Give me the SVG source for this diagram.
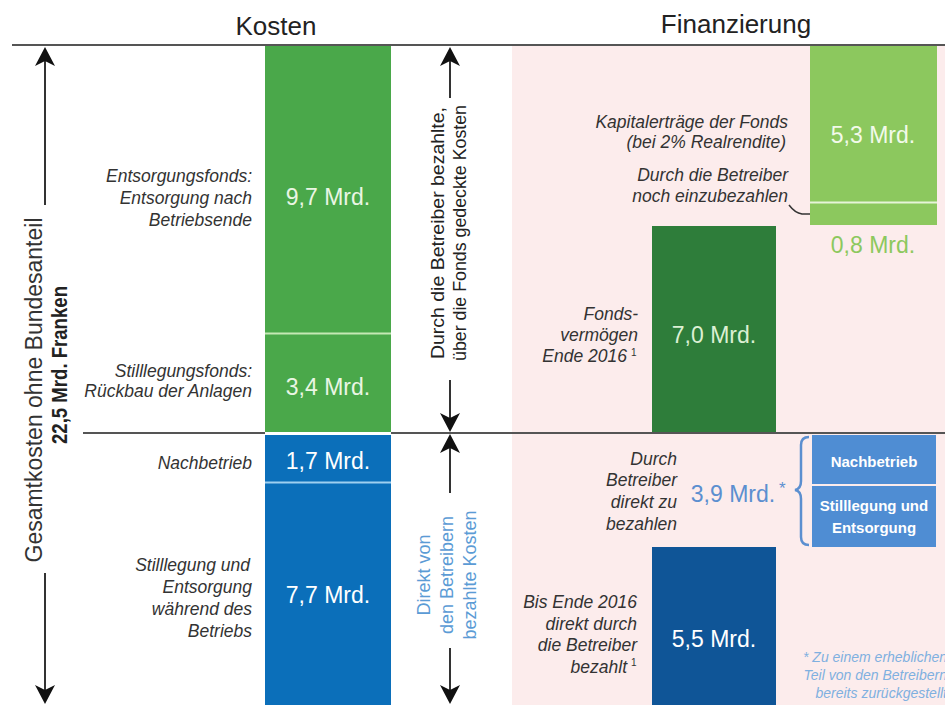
<svg xmlns="http://www.w3.org/2000/svg" xmlns:xlink="http://www.w3.org/1999/xlink" width="945" height="705" viewBox="0 0 945 705">
<style>
text{font-family:"Liberation Sans",Arial,sans-serif}
.hd{font-size:26px;fill:#222;text-anchor:middle}
.lb{font-size:17.5px;font-style:italic;fill:#333;text-anchor:end}
.val{font-size:23px;text-anchor:middle}
.rule{stroke:#555;stroke-width:2;fill:none}
.shaft{stroke:#333;stroke-width:2;fill:none}
.ah{fill:#111}
.box{font-size:15px;font-weight:bold;fill:#fff;text-anchor:middle}
.fn{font-size:14px;font-style:italic;fill:#7fb0e0;text-anchor:end}
.sup{font-size:10px;fill:#333}
</style>
<defs>
<path id="ah" class="ah" d="M0 0 L-10 19 L0 14 L10 19 Z"/>
</defs>
<rect width="945" height="705" fill="#fff"/>
<rect x="512" y="46" width="433" height="659" fill="#fcecec"/>
<text class="hd" x="276" y="35">Kosten</text>
<text class="hd" x="736" y="33">Finanzierung</text>
<path class="rule" d="M12 45 H945 M83 433 H265 M391 433 H945"/>

<g id="entsorgungsfonds">
<rect x="265" y="46" width="126" height="287" fill="#4aa84a"/>
<text class="val" x="328" y="205" fill="#eaf6e4">9,7 Mrd.</text>
<text class="lb" x="252" y="182">Entsorgungsfonds:</text>
<text class="lb" x="252" y="204">Entsorgung nach</text>
<text class="lb" x="252" y="226">Betriebsende</text>
</g>
<g id="stilllegungsfonds">
<rect x="265" y="334" width="126" height="98" fill="#4aa84a"/>
<line x1="265" y1="333.5" x2="391" y2="333.5" stroke="#c4e8b4" stroke-width="2"/>
<text class="val" x="328" y="395" fill="#eaf6e4">3,4 Mrd.</text>
<text class="lb" x="252" y="377">Stilllegungsfonds:</text>
<text class="lb" x="252" y="397">Rückbau der Anlagen</text>
</g>
<g id="nachbetrieb">
<rect x="265" y="435" width="126" height="47" fill="#0b6fba"/>
<text class="val" x="328" y="469" fill="#fff">1,7 Mrd.</text>
<text class="lb" x="252" y="469">Nachbetrieb</text>
</g>
<g id="stilllegung-betrieb">
<rect x="265" y="483" width="126" height="222" fill="#0b6fba"/>
<line x1="265" y1="482.5" x2="391" y2="482.5" stroke="#9fd0f0" stroke-width="2"/>
<text class="val" x="328" y="603" fill="#fff">7,7 Mrd.</text>
<text class="lb" x="250" y="571">Stilllegung und</text>
<text class="lb" x="252" y="593">Entsorgung</text>
<text class="lb" x="252" y="615">während des</text>
<text class="lb" x="252" y="637">Betriebs</text>
</g>

<g id="gesamt-label">
<text transform="translate(42,390) rotate(-90)" font-size="23" fill="#333" text-anchor="middle" textLength="345" lengthAdjust="spacingAndGlyphs">Gesamtkosten ohne Bundesanteil</text>
<text transform="translate(67,365) rotate(-90)" font-size="22" font-weight="bold" fill="#222" text-anchor="middle" textLength="158" lengthAdjust="spacingAndGlyphs">22,5 Mrd. Franken</text>
</g>
<g id="fonds-label">
<text transform="translate(444,233) rotate(-90)" font-size="19" fill="#222" text-anchor="middle" textLength="252" lengthAdjust="spacingAndGlyphs">Durch die Betreiber bezahlte,</text>
<text transform="translate(466,233) rotate(-90)" font-size="19" fill="#222" text-anchor="middle" textLength="256" lengthAdjust="spacingAndGlyphs">über die Fonds gedeckte Kosten</text>
</g>
<g id="direkt-label">
<text transform="translate(430,575) rotate(-90)" font-size="18" fill="#5b9bd5" text-anchor="middle">Direkt von</text>
<text transform="translate(453,575) rotate(-90)" font-size="18" fill="#5b9bd5" text-anchor="middle">den Betreibern</text>
<text transform="translate(476,575) rotate(-90)" font-size="18" fill="#5b9bd5" text-anchor="middle">bezahlte Kosten</text>
</g>

<g id="kapitalertraege">
<rect x="810" y="46" width="127" height="156" fill="#8cc85e"/>
<text class="val" x="873" y="143" fill="#f2faea">5,3 Mrd.</text>
<text class="lb" x="788" y="128">Kapitalerträge der Fonds</text>
<text class="lb" x="786" y="148">(bei 2% Realrendite)</text>
</g>
<g id="noch-einzuzahlen">
<rect x="810" y="203" width="127" height="22" fill="#8cc85e"/>
<line x1="810" y1="202.5" x2="937" y2="202.5" stroke="#e6f4d8" stroke-width="2"/>
<text class="val" x="873" y="253" fill="#8cc85e">0,8 Mrd.</text>
<text class="lb" x="788" y="181">Durch die Betreiber</text>
<text class="lb" x="788" y="202">noch einzubezahlen</text>
</g>
<g id="fondsvermoegen">
<rect x="652" y="226" width="124" height="206" fill="#2e7d3a"/>
<text class="val" x="714" y="343" fill="#dcf0d4">7,0 Mrd.</text>
<text class="lb" x="638" y="320">Fonds-</text>
<text class="lb" x="638" y="341">vermögen</text>
<text class="lb" x="627" y="362">Ende 2016</text>
<text class="sup" x="631" y="356">1</text>
</g>
<g id="direkt-zu-bezahlen">
<text class="lb" x="677" y="465">Durch</text>
<text class="lb" x="677" y="486">Betreiber</text>
<text class="lb" x="677" y="508">direkt zu</text>
<text class="lb" x="677" y="530">bezahlen</text>
<text class="val" x="733" y="502" fill="#5b8fd0">3,9 Mrd.</text>
<text x="779" y="494" font-size="17" fill="#5b8fd0">*</text>
</g>
<g id="box-nachbetrieb">
<rect x="812" y="435" width="124" height="49" fill="#4f8dd3"/>
<text class="box" x="874" y="467">Nachbetrieb</text>
</g>
<g id="box-stilllegung">
<rect x="812" y="486" width="124" height="61" fill="#4f8dd3"/>
<text class="box" x="874" y="511">Stilllegung und</text>
<text class="box" x="874" y="533">Entsorgung</text>
</g>
<g id="bis-2016">
<rect x="652" y="547" width="124" height="158" fill="#0f5597"/>
<text class="val" x="714" y="647" fill="#fff">5,5 Mrd.</text>
<text class="lb" x="637" y="608">Bis Ende 2016</text>
<text class="lb" x="637" y="630">direkt durch</text>
<text class="lb" x="637" y="651">die Betreiber</text>
<text class="lb" x="627" y="673">bezahlt</text>
<text class="sup" x="631" y="666">1</text>
</g>
<g id="footnote">
<text class="fn" x="947" y="662">* Zu einem erheblichen</text>
<text class="fn" x="947" y="680">Teil von den Betreibern</text>
<text class="fn" x="947" y="698">bereits zurückgestellt</text>
</g>

<g id="connectors">
<path class="shaft" d="M45 60 V205 M45 573 V690"/>
<use href="#ah" transform="translate(45,47)"/>
<use href="#ah" transform="translate(45,704) rotate(180)"/>
<path class="shaft" d="M450 60 V98 M450 380 V420"/>
<use href="#ah" transform="translate(450,47)"/>
<use href="#ah" transform="translate(450,432) rotate(180)"/>
<path class="shaft" d="M450 446 V493 M450 648 V690"/>
<use href="#ah" transform="translate(450,434)"/>
<use href="#ah" transform="translate(450,704) rotate(180)"/>
<path d="M789 205 Q795 213 802 214 L810 214" stroke="#333" stroke-width="1.5" fill="none"/>
<path d="M809 437 Q801 437 801 445 L801 481 Q801 489 795 490 Q801 491 801 499 L801 537 Q801 545 809 545" stroke="#5b8fd0" stroke-width="2.5" fill="none"/>
</g>
</svg>
